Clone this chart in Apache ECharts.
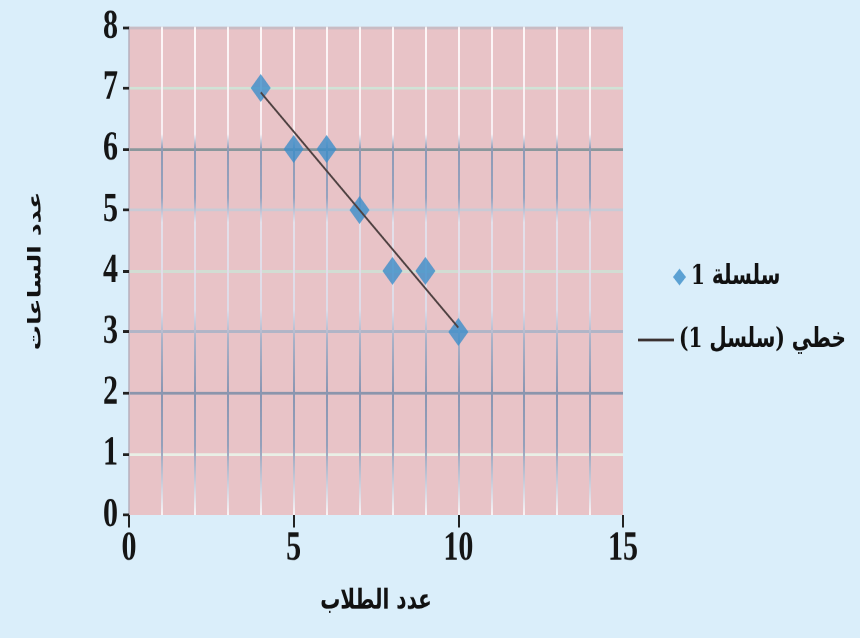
<!DOCTYPE html>
<html>
<head>
<meta charset="utf-8">
<script src="https://cdn.jsdelivr.net/npm/echarts@6/dist/echarts.min.js"></script>
<style>
  html, body { margin: 0; padding: 0; background: #daeefa; overflow: hidden; }
  #wrap { width: 860px; height: 638px; overflow: hidden; background: #daeefa; }
  /* the figure is drawn at 456px tall and stretched to the full 638px frame */
  #chart { width: 860px; height: 456px; transform: scaleY(1.3991); transform-origin: 0 0; }
</style>
</head>
<body>
<div id="wrap"><div id="chart"></div></div>
<script>
// Data: number of students (x) against number of hours (y)
const students = [4, 5, 6, 7, 8, 9, 10];
const hours = [7, 6, 6, 5, 4, 4, 3];

// Axis ticks
const xTicks = [0, 5, 10, 15];
const yTicks = [0, 1, 2, 3, 4, 5, 6, 7, 8];

// Texts
const pointsName = 'سلسلة 1';
const trendName = 'خطي (سلسل 1)';
const xTitle = 'عدد الطلاب';
const yTitle = 'عدد الساعات';

// Least-squares trend line through the points
function linearFit(xs, ys) {
  const n = xs.length;
  const mx = xs.reduce((a, b) => a + b, 0) / n;
  const my = ys.reduce((a, b) => a + b, 0) / n;
  let sxy = 0, sxx = 0;
  for (let i = 0; i < n; i++) {
    sxy += (xs[i] - mx) * (ys[i] - my);
    sxx += (xs[i] - mx) * (xs[i] - mx);
  }
  const slope = sxy / sxx;
  return { slope, intercept: my - slope * mx };
}
const fit = linearFit(students, hours);
const xFirst = Math.min(...students), xLast = Math.max(...students);
const trendPoints = [
  [xFirst, fit.intercept + fit.slope * xFirst],
  [xLast, fit.intercept + fit.slope * xLast]
];

const pointData = students.map((x, i) => [x, hours[i]]);

// Plot box (in the unstretched drawing space)
const GRID_TOP = 19.3, GRID_BOTTOM = 88, CHART_H = 456;
const plotTop = GRID_TOP, plotBottom = CHART_H - GRID_BOTTOM;

// Vertical grid lines: white near the top, bluish bands lower down
const vGrad = new echarts.graphic.LinearGradient(0, plotTop, 0, plotBottom, [
  { offset: 0.00, color: '#fdf7f8' },
  { offset: 0.22, color: '#f8eef2' },
  { offset: 0.25, color: '#8e9ab6' },
  { offset: 0.35, color: '#97a3bf' },
  { offset: 0.40, color: '#e4e0ea' },
  { offset: 0.58, color: '#dedce8' },
  { offset: 0.64, color: '#aab2c8' },
  { offset: 0.75, color: '#8a96b2' },
  { offset: 0.86, color: '#95a1bb' },
  { offset: 1.00, color: '#faf4f6' }
], true);

// Horizontal grid line colours, one per y tick from 0 upward
const hLineColors = ['rgba(0,0,0,0)', '#e9efe6', '#8b95ac', '#b0b5c7', '#d2ddd3',
                     '#c8cbd6', '#8a979c', '#d0e2d6', '#c9bcc4'];

const labelFont = "'Liberation Serif', 'Times New Roman', serif";
const arabicFont = "'DejaVu Serif', 'DejaVu Sans', 'Noto Sans', sans-serif";

const chart = echarts.init(document.getElementById('chart'), null, { renderer: 'canvas', devicePixelRatio: 2 });
chart.setOption({
  backgroundColor: '#daeefa',
  animation: false,
  grid: {
    left: 129, right: 237, top: GRID_TOP, bottom: GRID_BOTTOM,
    show: true, backgroundColor: '#e8c3c7', borderWidth: 0
  },
  legend: [
    {
      data: [pointsName],
      left: 668, top: 183,
      orient: 'vertical',
      itemWidth: 13, itemHeight: 12, itemGap: 6,
      textStyle: { fontFamily: arabicFont, fontWeight: 'bold', fontSize: 20, color: '#111' }
    },
    {
      data: [{ name: trendName, icon: 'rect' }],
      left: 633, top: 228,
      orient: 'vertical',
      itemWidth: 36, itemHeight: 2, itemGap: 2,
      textStyle: { fontFamily: arabicFont, fontWeight: 'bold', fontSize: 20, color: '#111' }
    }
  ],
  xAxis: {
    type: 'value',
    min: xTicks[0], max: xTicks[xTicks.length - 1], interval: xTicks[1] - xTicks[0],
    name: xTitle, nameLocation: 'middle', nameGap: 52,
    nameTextStyle: { fontFamily: arabicFont, fontWeight: 'bold', fontSize: 20, color: '#111' },
    axisLine: { show: false },
    axisTick: { show: true, length: 9, lineStyle: { color: '#222', width: 2 } },
    axisLabel: { margin: 9, fontFamily: labelFont, fontWeight: 'bold', fontSize: 30, color: '#151515' },
    splitLine: {
      show: true,
      lineStyle: { width: 2, color: ['rgba(0,0,0,0)', vGrad, vGrad, 'rgba(0,0,0,0)'] }
    },
    minorTick: { show: false, splitNumber: 5 },
    minorSplitLine: { show: true, lineStyle: { width: 2, color: vGrad } }
  },
  yAxis: {
    type: 'value',
    min: yTicks[0], max: yTicks[yTicks.length - 1], interval: yTicks[1] - yTicks[0],
    name: yTitle, nameLocation: 'middle', nameGap: 84, nameRotate: 90,
    nameTextStyle: { fontFamily: arabicFont, fontWeight: 'bold', fontSize: 18, color: '#111' },
    axisLine: { show: true, lineStyle: { color: '#b5b0bd', width: 1.5 } },
    axisTick: { show: true, length: 6, lineStyle: { color: '#222', width: 2 } },
    axisLabel: { margin: 11, fontFamily: labelFont, fontWeight: 'bold', fontSize: 30, color: '#151515' },
    splitLine: { show: true, lineStyle: { width: 2, color: hLineColors } }
  },
  series: [
    {
      name: pointsName,
      type: 'scatter',
      symbol: 'diamond',
      symbolSize: [20, 20],
      itemStyle: { color: '#3b8dc9' },
      data: pointData,
      z: 3
    },
    {
      name: trendName,
      type: 'line',
      symbol: 'none',
      lineStyle: { color: '#4d4040', width: 1.5 },
      itemStyle: { color: '#3a3030' },
      data: trendPoints,
      z: 4
    }
  ]
});
</script>
</body>
</html>
